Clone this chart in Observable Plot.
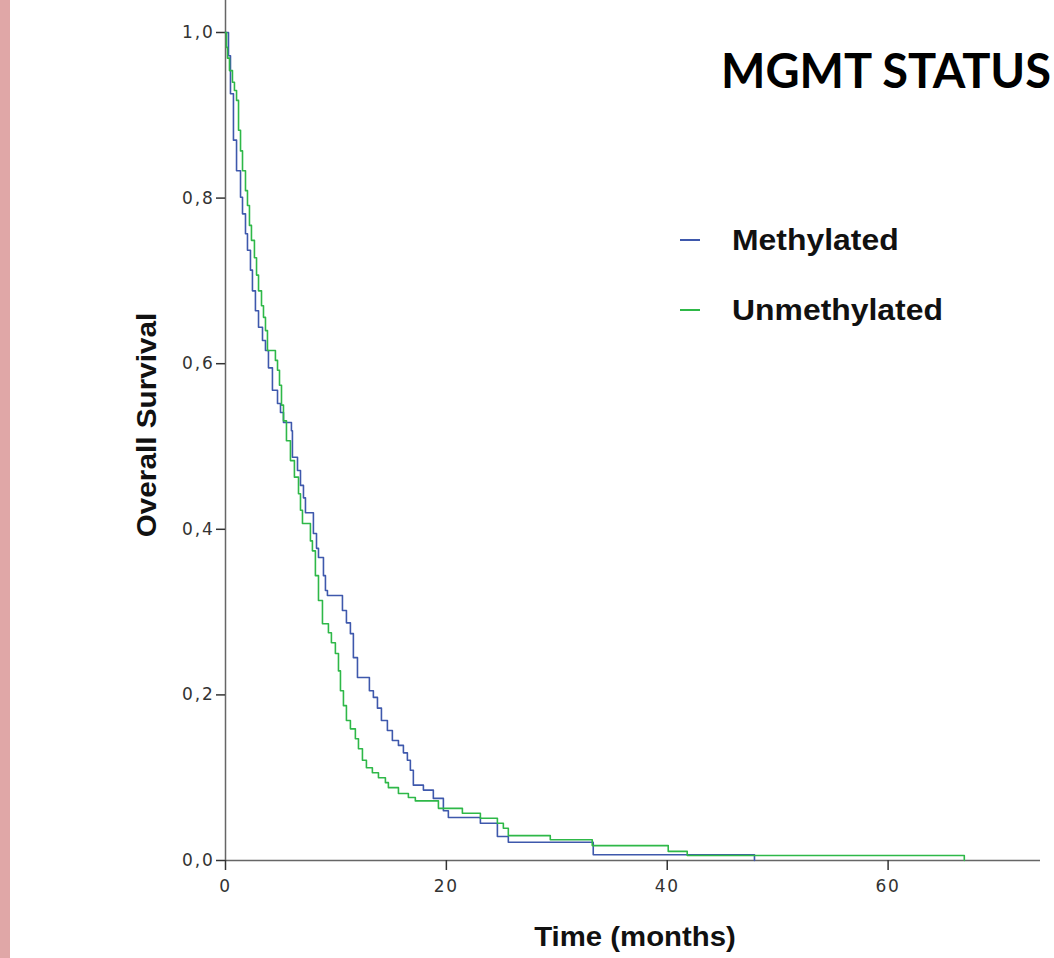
<!DOCTYPE html>
<html>
<head>
<meta charset="utf-8">
<script src="https://cdn.jsdelivr.net/npm/d3@7"></script>
<script src="https://cdn.jsdelivr.net/npm/@observablehq/plot@0.6"></script>
<style>
  html, body { margin: 0; padding: 0; background: #fff; }
  #wrap { position: relative; width: 1054px; height: 958px; overflow: hidden; background: #fff; }
  #strip { position: absolute; left: 0; top: 0; width: 10px; height: 958px; background: #e0a7a7; }
  #chart { position: absolute; left: 0; top: 0; }
  .txt { position: absolute; white-space: nowrap; font-family: "Liberation Sans", Arial, sans-serif; font-weight: bold; color: #111; }
  #title { left: 721px; top: 42px; font-family: Lato, "Open Sans", sans-serif; font-size: 47px; font-weight: 700; color: #000; }
  #ylab { left: 147px; top: 425px; font-size: 27px; transform: translate(-50%, -50%) rotate(-90deg) scaleX(1.1); }
  #xlab { left: 635px; top: 937px; font-size: 27px; transform: translate(-50%, -50%) scaleX(1.087); }
  .leg { font-size: 29px; transform-origin: left center; transform: scaleX(1.1); }
  .sw { position: absolute; width: 20px; height: 2px; }
  svg g[aria-label="y-axis tick label"] text, svg g[aria-label="x-axis tick label"] text {
    font-family: "DejaVu Sans", sans-serif; font-size: 17px; letter-spacing: 1.8px; fill: #333;
  }
</style>
</head>
<body>
<div id="wrap">
  <div id="strip"></div>
  <div id="chart"></div>
  <div id="title" class="txt">MGMT STATUS</div>
  <div id="ylab" class="txt">Overall Survival</div>
  <div id="xlab" class="txt">Time (months)</div>
</div>
<script>
// ---- data (Kaplan–Meier steps) ----
const groups = ["Methylated", "Unmethylated"];
const groupColors = ["#3e58ac", "#2eb848"];

const methTime = [0, 0.27, 0.45, 0.72, 1.0, 1.36, 1.54, 1.81, 1.99, 2.26, 2.44, 2.71, 2.99, 3.35, 3.62, 3.89, 4.25, 4.71, 4.98, 5.25, 5.97, 6.06, 6.52, 6.79, 7.06, 7.24, 7.96, 8.24, 8.42, 8.87, 9.05, 9.23, 10.59, 10.95, 11.31, 11.58, 11.95, 13.03, 13.39, 13.76, 14.12, 14.66, 15.11, 15.66, 16.11, 16.47, 16.74, 17.01, 17.92, 18.82, 19.73, 20.18, 23.08, 24.62, 25.61, 33.30, 47.9];
const methSurv = [1.0, 0.972, 0.926, 0.870, 0.833, 0.801, 0.781, 0.757, 0.737, 0.713, 0.688, 0.664, 0.644, 0.628, 0.616, 0.595, 0.568, 0.552, 0.541, 0.529, 0.519, 0.487, 0.471, 0.453, 0.438, 0.420, 0.395, 0.377, 0.366, 0.344, 0.326, 0.320, 0.302, 0.287, 0.274, 0.245, 0.221, 0.205, 0.197, 0.184, 0.169, 0.157, 0.145, 0.139, 0.130, 0.121, 0.109, 0.091, 0.085, 0.075, 0.060, 0.052, 0.045, 0.029, 0.022, 0.007, 0.0];

const unmethTime = [0, 0.09, 0.18, 0.36, 0.63, 0.81, 1.0, 1.18, 1.36, 1.54, 1.81, 1.99, 2.17, 2.35, 2.62, 2.81, 2.99, 3.26, 3.44, 3.62, 3.80, 4.52, 4.71, 4.89, 5.07, 5.25, 5.52, 5.88, 6.24, 6.61, 6.79, 6.97, 7.69, 7.87, 8.14, 8.42, 8.78, 9.32, 9.59, 9.95, 10.23, 10.41, 10.68, 10.95, 11.31, 11.76, 12.04, 12.40, 12.76, 13.30, 13.85, 14.48, 14.75, 15.66, 16.56, 17.19, 19.28, 21.45, 23.08, 24.62, 25.16, 25.61, 29.41, 33.21, 40.09, 41.81, 66.9];
const unmethSurv = [1.0, 0.982, 0.969, 0.954, 0.940, 0.930, 0.918, 0.882, 0.857, 0.833, 0.809, 0.791, 0.767, 0.749, 0.728, 0.707, 0.688, 0.670, 0.656, 0.640, 0.616, 0.604, 0.592, 0.574, 0.550, 0.531, 0.507, 0.483, 0.463, 0.443, 0.423, 0.407, 0.386, 0.374, 0.344, 0.314, 0.286, 0.275, 0.263, 0.250, 0.229, 0.205, 0.187, 0.169, 0.159, 0.147, 0.135, 0.121, 0.112, 0.106, 0.100, 0.094, 0.088, 0.081, 0.076, 0.072, 0.063, 0.057, 0.051, 0.045, 0.039, 0.030, 0.025, 0.018, 0.011, 0.006, 0.0];

const yTicks = [0, 0.2, 0.4, 0.6, 0.8, 1.0];
const xTicks = [0, 20, 40, 60];

// ---- build table ----
const rows = [];
methTime.forEach((t, i) => rows.push({group: groups[0], time: t, surv: methSurv[i]}));
unmethTime.forEach((t, i) => rows.push({group: groups[1], time: t, surv: unmethSurv[i]}));

const plot = Plot.plot({
  width: 1054,
  height: 958,
  marginLeft: 225,
  marginRight: 14,
  marginTop: 0,
  marginBottom: 98,
  style: {background: "transparent", color: "#222"},
  x: {domain: [0, 73.8]},
  y: {domain: [0, 1 + 32 / 828]},
  color: {domain: groups, range: groupColors},
  marks: [
    Plot.ruleX([0], {stroke: "#666", strokeWidth: 1.5}),
    Plot.ruleY([0], {stroke: "#666", strokeWidth: 1.5}),
    Plot.axisY({ticks: yTicks, tickSize: 9, tickPadding: 2, tickFormat: d => d.toFixed(1).replace(".", ","), label: null, stroke: "#333", strokeWidth: 1.5}),
    Plot.axisX({ticks: xTicks, tickSize: 10, tickPadding: 9, label: null, stroke: "#333", strokeWidth: 1.5}),
    Plot.line(rows, {x: "time", y: "surv", z: "group", stroke: "group", curve: "step-after", strokeWidth: 1.6})
  ]
});
document.getElementById("chart").appendChild(plot);

// legend
const wrap = document.getElementById("wrap");
groups.forEach((g, i) => {
  const cy = 240 + i * 70;
  const sw = document.createElement("div");
  sw.className = "sw";
  sw.style.left = "680px";
  sw.style.top = (cy - 1) + "px";
  sw.style.background = groupColors[i];
  wrap.appendChild(sw);
  const t = document.createElement("div");
  t.className = "txt leg";
  t.textContent = g;
  t.style.left = "732px";
  t.style.top = (cy - 16) + "px";
  wrap.appendChild(t);
});
</script>
</body>
</html>
